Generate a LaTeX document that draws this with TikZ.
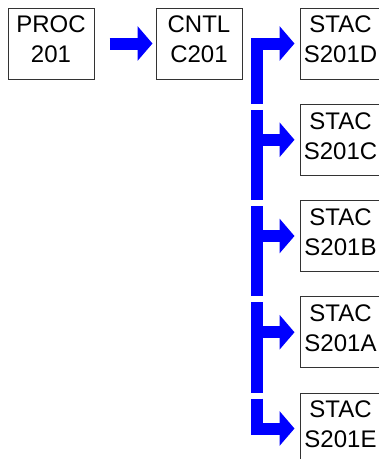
\documentclass[tikz,border=0pt]{standalone}
\usepackage{fontspec}
\setmainfont{Liberation Sans}
\usetikzlibrary{arrows.meta,positioning,calc}
\tikzset{
  unit box/.style={
    draw=black!80,
    line width=1pt,
    fill=white,
    minimum width=86pt,
    minimum height=71pt,
    inner sep=0pt,
    align=center,
    font=\fontsize{24}{30}\selectfont
  },
  stac box/.style={
    unit box,
    minimum width=81pt
  },
  flow/.style={
    draw=blue,
    line width=12pt,
    -{Triangle[width=34pt,length=15pt]}
  },
  bar/.style={
    draw=blue,
    line width=12pt
  }
}
\newcommand{\boxlines}[2]{#1\\#2\rule[-8pt]{0pt}{8pt}}

\begin{document}
\begin{tikzpicture}[%
        x=1pt,y=-1pt,
        line join=miter,
        on grid,
        node distance=96.25pt and 148pt]
      \useasboundingbox (0,0) rectangle (379,459);
      \node[unit box] (proc)  at (51,43.5)            {\boxlines{PROC}{201}};
      \node[unit box] (cntl)  [right=of proc]         {\boxlines{CNTL}{C201}};
      \node[stac box] (s201d) [right=141.5pt of cntl] {\boxlines{STAC}{S201D}};
      \node[stac box] (s201c) [below=of s201d]        {\boxlines{STAC}{S201C}};
      \node[stac box] (s201b) [below=of s201c]        {\boxlines{STAC}{S201B}};
      \node[stac box] (s201a) [below=of s201b]        {\boxlines{STAC}{S201A}};
      \node[stac box] (s201e) [below=of s201a]        {\boxlines{STAC}{S201E}};
      \coordinate (bar) at (256.5,0);
      % main flow
      \draw[flow,shorten <=15pt,shorten >=3pt] (proc) -- (cntl);
      % fan out to the stacks
      \draw[flow,shorten >=5pt] (bar |- s201c.north) |- (s201d.west);
      \draw[bar] ($(bar |- s201c.north)+(0pt,-6pt)$) -- (bar |- s201b.north);
      \draw[flow,shorten >=5pt] (bar |- s201c.west) -- (s201c.west);
      \draw[bar] ($(bar |- s201b.north)+(0pt,-6pt)$) -- (bar |- s201a.north);
      \draw[flow,shorten >=5pt] (bar |- s201b.west) -- (s201b.west);
      \draw[bar] ($(bar |- s201a.north)+(0pt,-6pt)$) -- (bar |- s201e.north);
      \draw[flow,shorten >=5pt] (bar |- s201a.west) -- (s201a.west);
      \draw[flow,shorten >=5pt] ($(bar |- s201e.north)+(0pt,-6pt)$) |- (s201e.west);
    \end{tikzpicture}
\end{document}
